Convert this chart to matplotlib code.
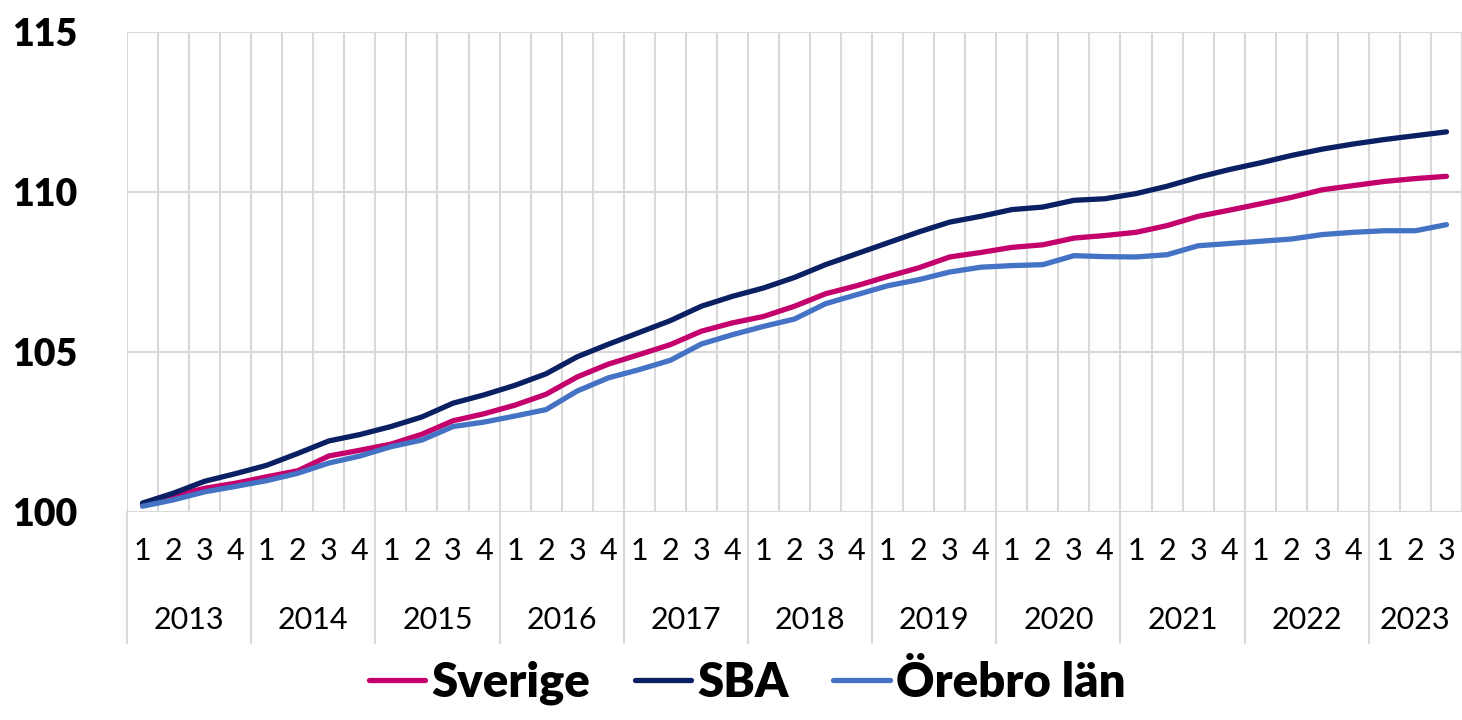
import matplotlib
matplotlib.use("Agg")
import matplotlib.pyplot as plt
import matplotlib.transforms as mtransforms
import numpy as np

plt.rcParams['font.family'] = ['Lato', 'DejaVu Sans']

years = ['2013', '2014', '2015', '2016', '2017', '2018',
         '2019', '2020', '2021', '2022', '2023']
quarters = ['1', '2', '3', '4'] * 10 + ['1', '2', '3']

sverige = [100.24, 100.51, 100.74, 100.90, 101.10, 101.29, 101.75, 101.93,
           102.12, 102.43, 102.85, 103.07, 103.34, 103.68, 104.22, 104.62,
           104.92, 105.23, 105.65, 105.91, 106.11, 106.43, 106.82, 107.07,
           107.36, 107.63, 107.97, 108.11, 108.27, 108.35, 108.56, 108.64,
           108.74, 108.95, 109.24, 109.43, 109.63, 109.83, 110.07, 110.20,
           110.33, 110.42, 110.49]
sba = [100.28, 100.59, 100.96, 101.20, 101.46, 101.83, 102.22, 102.42,
       102.67, 102.97, 103.40, 103.66, 103.96, 104.32, 104.85, 105.24,
       105.61, 105.98, 106.43, 106.74, 107.00, 107.33, 107.73, 108.07,
       108.41, 108.75, 109.06, 109.24, 109.45, 109.53, 109.74, 109.79,
       109.95, 110.18, 110.46, 110.70, 110.91, 111.14, 111.34, 111.50,
       111.64, 111.76, 111.88]
orebro = [100.18, 100.38, 100.63, 100.80, 100.98, 101.21, 101.53, 101.75,
          102.04, 102.25, 102.67, 102.81, 103.00, 103.20, 103.78, 104.19,
          104.45, 104.74, 105.25, 105.54, 105.80, 106.03, 106.51, 106.79,
          107.07, 107.26, 107.50, 107.65, 107.70, 107.73, 108.01, 107.98,
          107.97, 108.04, 108.32, 108.39, 108.46, 108.53, 108.67, 108.74,
          108.79, 108.79, 108.98]

grid_col = '#d9d9d9'
x = np.arange(len(quarters))

fig = plt.figure(figsize=(14.62, 7.2), dpi=100)
ax = fig.add_axes([127 / 1462, 208 / 720, 1335 / 1462, 480 / 720])

ax.plot(x, sverige, color='#c4006d', lw=3.8, label='Sverige', solid_capstyle='round')
ax.plot(x, sba, color='#0b1f63', lw=3.8, label='SBA', solid_capstyle='round')
ax.plot(x, orebro, color='#4472c4', lw=3.8, label='Örebro län', solid_capstyle='round')

ax.set_xlim(-0.5, len(quarters) - 0.5)
ax.set_ylim(100, 115)
ax.set_yticks([100, 105, 110, 115])
ax.set_xticks(x)
ax.set_xticklabels(quarters, fontsize=22)
ax.set_xticks(np.arange(-0.5, len(quarters)), minor=True)
ax.tick_params(axis='x', which='both', length=0, pad=18)
ax.tick_params(axis='y', length=0, pad=36, labelsize=27)
for lbl in ax.get_yticklabels():
    lbl.set_fontweight('heavy')

ax.grid(axis='y', color=grid_col, lw=1.5)
ax.grid(axis='x', which='minor', color=grid_col, lw=1.5)
ax.set_axisbelow(True)
for s in ax.spines.values():
    s.set_visible(False)

# year labels and separators below the axis
trans = mtransforms.blended_transform_factory(ax.transData, ax.transAxes)
drop = -131 / 480
for i, yr in enumerate(years):
    start = i * 4 - 0.5
    end = min(start + 4, len(quarters) - 0.5)
    ax.text((start + end) / 2, -0.225, yr, transform=trans,
            ha='center', va='center', fontsize=22)
    ax.plot([start, start], [0, drop], transform=trans, color=grid_col,
            lw=1.5, clip_on=False)

fig.legend(loc='upper center', bbox_to_anchor=(0.511, 0.082), ncol=3,
           frameon=False, handlelength=1.2, handletextpad=0.12,
           columnspacing=0.95, borderaxespad=0, borderpad=0,
           prop={'weight': 'heavy', 'size': 34})

fig.savefig('out.png', dpi=100)
